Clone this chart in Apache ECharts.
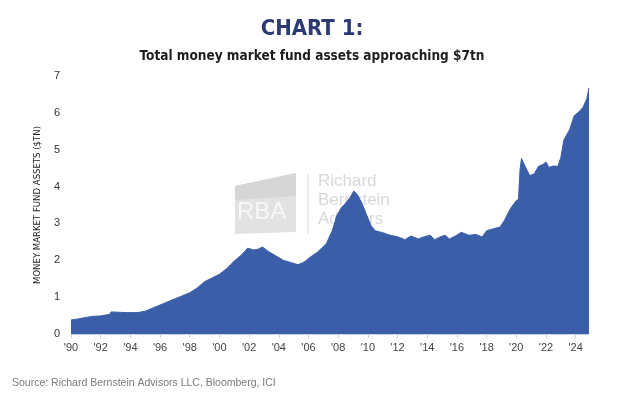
<!DOCTYPE html>
<html>
<head>
<meta charset="utf-8">
<script src="https://cdn.jsdelivr.net/npm/echarts@6/dist/echarts.min.js"></script>
<style>
  html, body { margin: 0; padding: 0; background: #fff; }
  #chart { width: 624px; height: 399px; }
</style>
</head>
<body>
<div id="chart"></div>
<script>
// total money market fund assets, $tn
const years = [
  1990.0, 1990.5, 1991.0, 1991.5, 1992.0, 1992.4, 1992.6, 1992.7, 1993.2, 1993.8,
  1994.5, 1995.0, 1995.6, 1996.2, 1996.8, 1997.4, 1998.0, 1998.5, 1999.0, 1999.5,
  2000.0, 2000.5, 2001.0, 2001.5, 2001.9, 2002.3, 2002.6, 2002.9, 2003.3, 2003.8,
  2004.3, 2004.8, 2005.3, 2005.7, 2006.1, 2006.6, 2007.2, 2007.6, 2007.9, 2008.2,
  2008.5, 2008.8, 2009.05, 2009.3, 2009.6, 2009.9, 2010.2, 2010.5, 2011.0, 2011.5,
  2012.0, 2012.5, 2012.9, 2013.4, 2013.8, 2014.2, 2014.5, 2014.9, 2015.2, 2015.5,
  2015.9, 2016.3, 2016.8, 2017.3, 2017.7, 2018.0, 2018.5, 2018.9, 2019.2, 2019.6,
  2020.0, 2020.15, 2020.25, 2020.35, 2020.6, 2020.9, 2021.2, 2021.5, 2021.8, 2022.0,
  2022.2, 2022.5, 2022.8, 2023.0, 2023.2, 2023.6, 2023.9, 2024.2, 2024.5, 2024.75,
  2024.9
];
const assets = [
  0.38, 0.41, 0.45, 0.48, 0.49, 0.52, 0.53, 0.60, 0.59, 0.58,
  0.58, 0.62, 0.72, 0.82, 0.92, 1.02, 1.12, 1.25, 1.42, 1.52,
  1.62, 1.78, 1.98, 2.15, 2.33, 2.28, 2.30, 2.36, 2.24, 2.12,
  2.00, 1.94, 1.88, 1.95, 2.08, 2.22, 2.45, 2.80, 3.20, 3.42,
  3.55, 3.70, 3.88, 3.78, 3.55, 3.25, 2.95, 2.80, 2.75, 2.68,
  2.64, 2.56, 2.66, 2.58, 2.64, 2.68, 2.56, 2.64, 2.68, 2.58,
  2.66, 2.76, 2.68, 2.70, 2.63, 2.80, 2.86, 2.90, 3.08, 3.40,
  3.62, 3.65, 4.44, 4.76, 4.55, 4.30, 4.34, 4.55, 4.60, 4.67,
  4.52, 4.56, 4.55, 4.78, 5.26, 5.55, 5.92, 6.02, 6.15, 6.38,
  6.68
];
const yTicks = [0, 1, 2, 3, 4, 5, 6, 7];

const chart = echarts.init(document.getElementById('chart'));
const labelFont = "'Liberation Sans', 'DejaVu Sans', sans-serif";
const narrowFont = "'Liberation Sans Narrow', 'DejaVu Sans Condensed', sans-serif";

chart.setOption({
  animation: false,
  title: [
    {
      text: 'CHART 1:',
      left: 'center',
      top: 13,
      textStyle: { fontFamily: narrowFont, fontSize: 22, fontWeight: 'bold', color: '#2c3b72' }
    },
    {
      text: 'Total money market fund assets approaching $7tn',
      left: 'center',
      top: 44,
      textStyle: { fontFamily: narrowFont, fontSize: 13.5, fontWeight: 'bold', color: '#1e1e1e' }
    }
  ],
  grid: { left: 71, right: 35, top: 76, bottom: 65 },
  graphic: [
    // faint RBA watermark, sits behind the area
    {
      type: 'polygon', z: -10, silent: true,
      shape: { points: [[235, 186], [296, 173], [296, 232], [235, 234]] },
      style: { fill: '#e2e2e2' }
    },
    {
      type: 'polygon', z: -10, silent: true,
      shape: { points: [[235, 186], [296, 173], [296, 196], [235, 200]] },
      style: { fill: '#d6d6d6' }
    },
    {
      type: 'text', z: -9, silent: true, left: 237, top: 200,
      style: { text: 'RBA', fontFamily: labelFont, fontSize: 24, fill: '#f7f7f7' }
    },
    {
      type: 'line', z: -10, silent: true,
      shape: { x1: 308, y1: 174, x2: 308, y2: 234 },
      style: { stroke: '#d8d8d8', lineWidth: 1 }
    },
    {
      type: 'text', z: -10, silent: true, left: 318, top: 172,
      style: {
        text: 'Richard\nBernstein\nAdvisors', fontFamily: labelFont, fontSize: 17,
        lineHeight: 19, fill: '#d8d8d8'
      }
    },
    {
      type: 'text', left: 12, top: 378,
      style: {
        text: 'Source: Richard Bernstein Advisors LLC, Bloomberg, ICI',
        fontFamily: labelFont, fontSize: 10.5, fill: '#7a7a7a'
      }
    }
  ],
  xAxis: {
    type: 'value',
    min: 1990,
    max: 2024.9,
    interval: 2,
    axisLine: { show: true, lineStyle: { color: '#c9d0de', width: 1 } },
    axisTick: { show: true, length: 4, lineStyle: { color: '#c9d0de' } },
    splitLine: { show: false },
    axisLabel: {
      color: '#444', fontSize: 11, fontFamily: labelFont, margin: 8,
      showMaxLabel: false,
      formatter: v => (Math.abs(v % 2) < 1e-6 ? "'" + String(v).slice(2) : '')
    }
  },
  yAxis: {
    type: 'value',
    min: yTicks[0],
    max: yTicks[yTicks.length - 1],
    interval: 1,
    name: 'MONEY MARKET FUND ASSETS ($TN)',
    nameLocation: 'middle',
    nameGap: 27,
    nameTextStyle: { color: '#222', fontSize: 9.5, fontFamily: narrowFont },
    axisLine: { show: false },
    axisTick: { show: false },
    splitLine: { show: false },
    axisLabel: { color: '#333', fontSize: 11, fontFamily: labelFont, margin: 11 }
  },
  series: [{
    type: 'line',
    data: years.map((y, i) => [y, assets[i]]),
    showSymbol: false,
    lineStyle: { width: 1, color: '#3b5ea8' },
    areaStyle: { color: '#3b5ea8', opacity: 1 },
    z: 2
  }]
});
</script>
</body>
</html>
